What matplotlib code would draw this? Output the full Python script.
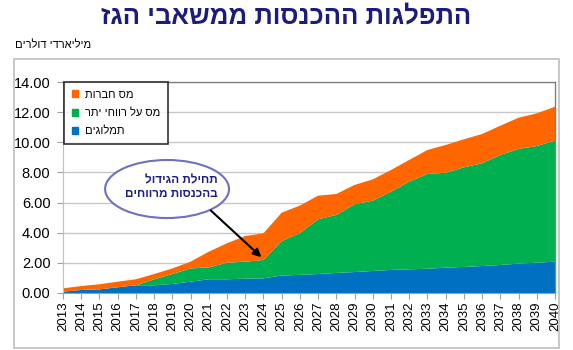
import matplotlib
matplotlib.use("Agg")
import matplotlib.pyplot as plt
from matplotlib.patches import Patch, Ellipse, Rectangle
import numpy as np

plt.rcParams['font.family'] = ['Liberation Sans', 'DejaVu Sans']

def rtl(s):
    return s[::-1]

years = list(range(2013, 2041))
royalties = [0.09, 0.20, 0.24, 0.38, 0.51, 0.51, 0.60, 0.75, 0.91, 0.91, 0.95, 0.97, 1.16, 1.20,
             1.26, 1.33, 1.39, 1.46, 1.53, 1.57, 1.61, 1.68, 1.73, 1.79, 1.86, 1.95, 2.01, 2.08]
excess_profit_tax = [0.00, 0.00, 0.00, 0.00, 0.00, 0.40, 0.66, 0.88, 0.79, 1.10, 1.13, 1.22, 2.29, 2.78,
                     3.63, 3.85, 4.50, 4.67, 5.19, 5.82, 6.29, 6.30, 6.61, 6.82, 7.30, 7.61, 7.74, 8.03]
corporate_tax = [0.22, 0.26, 0.34, 0.37, 0.40, 0.35, 0.37, 0.45, 1.04, 1.29, 1.70, 1.77, 1.88, 1.82,
                 1.57, 1.39, 1.28, 1.41, 1.44, 1.44, 1.59, 1.84, 1.86, 1.94, 1.94, 2.07, 2.17, 2.25]
series_labels = ["תמלוגים", "מס על רווחי יתר", "מס חברות"]
colors = ["#0070C0", "#00B050", "#FF6600"]
yticks = [0, 2, 4, 6, 8, 10, 12, 14]

title = "התפלגות ההכנסות ממשאבי הגז"
unit_label = "מיליארדי דולרים"
note_lines = ["תחילת הגידול", "בהכנסות מרווחים"]

W, H = 573, 350
fig = plt.figure(figsize=(W / 100, H / 100), dpi=100)

# outer frame
fig.patches.append(Rectangle((14 / W, (H - 348) / H), (559 - 14) / W, (348 - 59) / H,
                             transform=fig.transFigure, fill=False, edgecolor="#BFBFBF", lw=1.2))

ax = fig.add_axes([63 / W, (H - 293) / H, (555 - 63) / W, (293 - 82) / H])
ax.stackplot(years, royalties, excess_profit_tax, corporate_tax, colors=colors, zorder=2)
ax.set_xlim(2013, 2040)
ax.set_ylim(0, 14)
ax.set_yticks(yticks)
ax.set_yticklabels([f"{v:.2f}" for v in yticks], fontsize=10.5)
ax.set_xticks(years)
ax.set_xticklabels([str(y) for y in years], rotation=90, fontsize=9.5)
ax.yaxis.grid(True, color="#C8C8C8", lw=1, zorder=0)
ax.set_axisbelow(True)
ax.tick_params(axis='y', length=4, width=0.8, color="#A0A0A0", pad=5, colors="#000000")
ax.tick_params(axis='y', color="#A0A0A0")
ax.tick_params(axis='x', length=4, width=0.8, color="#A0A0A0", pad=2)
for s in ['top', 'right']:
    ax.spines[s].set_color("#808080")
    ax.spines[s].set_linewidth(1)
ax.spines['left'].set_color("#BFBFBF")
ax.spines['bottom'].set_color("#A0A0A0")

handles = [Patch(color=colors[i], label=rtl(series_labels[i])) for i in [2, 1, 0]]
leg = ax.legend(handles=handles, loc='upper left', bbox_to_anchor=(0.002, 1.0), fontsize=8,
                frameon=True, fancybox=False, edgecolor="black", handlelength=0.6, handleheight=0.6,
                borderpad=0.7, labelspacing=0.75, handletextpad=0.6, borderaxespad=0.0)
leg.get_frame().set_linewidth(1.2)
leg.set_zorder(5)

# ellipse callout
ell = Ellipse((2018.71, 6.90), 6.8, 3.85, facecolor="white", edgecolor="#7070C0", lw=1.5, zorder=4)
ax.add_patch(ell)
ax.text(2021.5, 7.45, rtl(note_lines[0]), ha='right', va='center', fontsize=8.5,
        fontweight='bold', color="#1F1F80", zorder=6)
ax.text(2021.5, 6.55, rtl(note_lines[1]), ha='right', va='center', fontsize=8.5,
        fontweight='bold', color="#1F1F80", zorder=6)
ax.annotate("", xy=(2024.0, 2.25), xytext=(2021.0, 5.6),
            arrowprops=dict(arrowstyle='-|>', color='black', lw=1.5, mutation_scale=12), zorder=6)

fig.text(0.5, (H - 16) / H, rtl(title), ha='center', va='center', fontsize=18.5,
         fontweight='bold', color="#1C1C7C")
fig.text(15 / W, (H - 45) / H, rtl(unit_label), ha='left', va='center', fontsize=8, color="#000000")

fig.savefig("out.png", dpi=100)
